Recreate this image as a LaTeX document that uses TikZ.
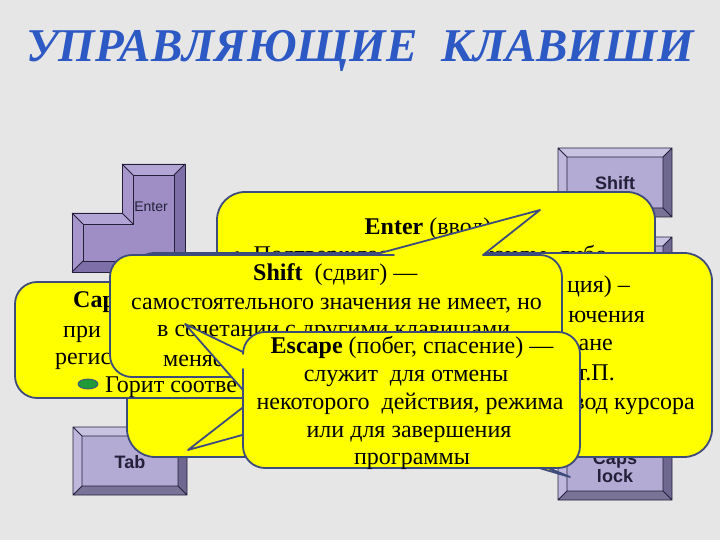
\documentclass[tikz,border=0pt]{standalone}
\usepackage{fontspec}
\setmainfont{Liberation Serif}
\newfontfamily\keyfont{Liberation Sans}
\definecolor{bg}{HTML}{E6E6E6}
\definecolor{cyel}{HTML}{FFFF00}
\definecolor{cbord}{HTML}{3E4C7C}
\definecolor{tcol}{HTML}{2D59C4}
\definecolor{eface}{HTML}{9E8EC5}
\definecolor{elight}{HTML}{B2A5D6}
\definecolor{emid}{HTML}{A696CC}
\definecolor{edark}{HTML}{7E6FA8}
\definecolor{kface}{HTML}{B3ABD4}
\definecolor{ktop}{HTML}{C9C3E2}
\definecolor{kleft}{HTML}{BFB8DC}
\definecolor{kdark}{HTML}{6E6790}
\definecolor{kbot}{HTML}{7A7398}
\definecolor{kline}{HTML}{24203A}
\definecolor{cgreen}{HTML}{1F9A3A}
\newcommand{\titlefnt}{\fontsize{47}{47}\selectfont\bfseries\itshape}
\newcommand{\bkey}[4]{%
 \fill[kface] (#1,#2) rectangle (#3,#4);
 \fill[ktop] (#1,#2) -- (#3,#2) -- (#3-9,#2+9) -- (#1+9,#2+9) -- cycle;
 \fill[kleft] (#1,#2) -- (#1+9,#2+9) -- (#1+9,#4-9) -- (#1,#4) -- cycle;
 \fill[kdark] (#3,#2) -- (#3,#4) -- (#3-9,#4-9) -- (#3-9,#2+9) -- cycle;
 \fill[kbot] (#1,#4) -- (#3,#4) -- (#3-9,#4-9) -- (#1+9,#4-9) -- cycle;
 \draw[keyline] (#1,#2) rectangle (#3,#4) (#1+9,#2+9) rectangle (#3-9,#4-9)
   (#1,#2) -- (#1+9,#2+9) (#3,#2) -- (#3-9,#2+9) (#3,#4) -- (#3-9,#4-9) (#1,#4) -- (#1+9,#4-9);
}
\begin{document}
\begin{tikzpicture}[x=1pt,y=-1pt,
  callout/.style={fill=cyel,draw=cbord,line width=1.8pt,line join=round},
  wedgeline/.style={draw=cbord,line width=1.8pt,line join=round},
  ctext/.style={font=\fontsize{24}{28}\selectfont,inner sep=0pt,text=black},
  keyline/.style={draw=kline,line width=0.8pt},
  keylabel/.style={font=\keyfont\fontsize{18}{20}\selectfont\bfseries,text=kline,inner sep=0pt,align=center},
  ]
\useasboundingbox (0,0) rectangle (720,540);
\fill[bg] (0,0) rectangle (720,540);

% ---------- title ----------
\node[font=\titlefnt,anchor=base,inner sep=0pt,text=tcol] (title) at (360,62) {УПРАВЛЯЮЩИЕ\ \ КЛАВИШИ};

% ---------- keys ----------
% Enter (L-shaped)
\fill[eface] (122,164) -- (185,164) -- (185,272) -- (72,272) -- (72,213) -- (122,213) -- cycle;
\fill[elight] (122,164) -- (185,164) -- (174,175) -- (133,175) -- cycle;
\fill[elight] (72,213) -- (122,213) -- (133,224) -- (83,224) -- cycle;
\fill[emid] (122,213) -- (122,164) -- (133,175) -- (133,224) -- cycle;
\fill[emid] (72,272) -- (72,213) -- (83,224) -- (83,261) -- cycle;
\fill[edark] (185,164) -- (185,272) -- (174,261) -- (174,175) -- cycle;
\fill[edark] (185,272) -- (72,272) -- (83,261) -- (174,261) -- cycle;
\draw[keyline] (122,164) -- (185,164) -- (185,272) -- (72,272) -- (72,213) -- (122,213) -- cycle;
\draw[keyline] (133,175) -- (174,175) -- (174,261) -- (83,261) -- (83,224) -- (133,224) -- cycle;
\draw[keyline] (122,164) -- (133,175) (185,164) -- (174,175) (185,272) -- (174,261)
  (72,272) -- (83,261) (72,213) -- (83,224) (122,213) -- (133,224);
\node[font=\keyfont\fontsize{14}{16}\selectfont,text=kline,inner sep=0pt] (kenter) at (151,207) {Enter};

% Shift
\bkey{558}{148}{672}{217}
\node[keylabel] (kshift) at (615,183) {Shift};
% Escape (hidden below)
\bkey{558}{237}{672}{305}
% Tab
\bkey{73}{427}{187}{495}
\node[keylabel] (ktab) at (130,462) {Tab};
% Caps lock
\bkey{558}{430}{672}{500}
\node[keylabel] (kcaps) at (615,467) {Caps\\[-2pt]lock};

% ---------- Enter callout ----------
\draw[callout, rounded corners=28] (217,192) rectangle (655,345);
\node[ctext,anchor=base] (ent1) at (428,235) {\textbf{Enter} (ввод)};
\node[ctext,anchor=base west] (ent2) at (233,262) {•\ \ Подтверждает ввод команды, либо};

% ---------- Tab callout ----------
\draw[callout, rounded corners=28] (127,253) rectangle (712,457);
\node[ctext,anchor=base east] (tab1) at (630,292) {ция) –};
\node[ctext,anchor=base east] (tab2) at (645,322) {ючения};
\node[ctext,anchor=base east] (tab3) at (613,350) {ане};
\node[ctext,anchor=base east] (tab4) at (615,380) {т.П.};
\node[ctext,anchor=base east] (tab5) at (695,409) {вод курсора};
\draw[wedgeline] (300,363) -- (188,450) -- (300,419);

% ---------- Caps Lock callout ----------
\draw[callout] (15,340) [rounded corners=22] -- (15,282) -- (450,282) -- (450,398) -- (381,398)
  [sharp corners] -- (380,398) -- (570,477) -- (300,398) -- (299,398)
  [rounded corners=22] -- (15,398) -- cycle;
\node[ctext,anchor=base west] (cap1) at (73,307) {\textbf{Caps}};
\node[ctext,anchor=base west] (cap2) at (63,337) {при};
\node[ctext,anchor=base west] (cap3) at (55,364) {регистр};
\draw[fill=cgreen,draw=cbord,line width=0.8pt] (88,384) ellipse (10 and 5);
\node[ctext,anchor=base west] (cap4) at (105,392) {Горит соотве};

% ---------- Shift callout ----------
\draw[callout] (110,316) [rounded corners=22] -- (110,255) -- (372,255)
  [sharp corners] -- (373,255) -- (540,210) -- (483,255) -- (484,255)
  [rounded corners=22] -- (562,255) -- (562,377) -- (110,377) -- cycle;
\node[ctext,anchor=base west] (sh1) at (253,280) {\textbf{Shift}\ \ (сдвиг) —};
\node[ctext,anchor=base west] (sh2) at (131,309) {самостоятельного значения не имеет, но};
\node[ctext,anchor=base west] (sh3) at (157,336) {в сочетании с другими клавишами};
\node[ctext,anchor=base west] (sh4) at (163,366) {меняет};

% ---------- Escape callout ----------
\draw[callout] (410,332) [rounded corners=22] -- (580,332) -- (580,468) -- (243,468) -- (243,391)
  [sharp corners] -- (243,390) -- (185,324) -- (243,352) -- (243,351)
  [rounded corners=22] -- (243,332) -- cycle;
\node[ctext,anchor=base] (esc1) at (412,353) {\textbf{Escape} (побег, спасение) —};
\node[ctext,anchor=base] (esc2) at (406,381) {служит\ \ для отмены};
\node[ctext,anchor=base] (esc3) at (410,409) {некоторого\ \ действия, режима};
\node[ctext,anchor=base] (esc4) at (409,437) {или для завершения};
\node[ctext,anchor=base] (esc5) at (412,464) {программы};
\end{tikzpicture}
\end{document}
